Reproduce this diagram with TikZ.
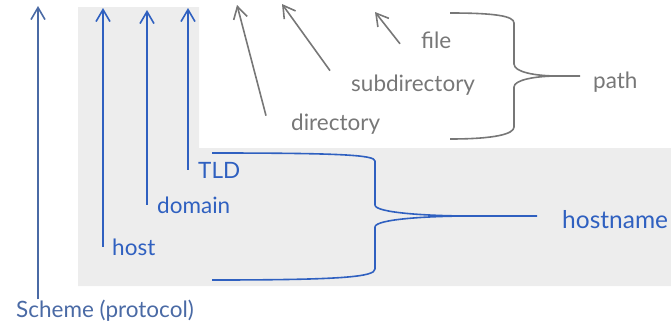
\documentclass[tikz,border=0pt]{standalone}
\usepackage{fontspec}
\setmainfont{Lato}
\usepackage{xcolor}
\usetikzlibrary{arrows.meta, positioning, calc}

\definecolor{urlblue}{HTML}{2F60C0}
\definecolor{schemeblue}{HTML}{4A6AA5}
\definecolor{pathgrey}{HTML}{777777}
\definecolor{boxgrey}{HTML}{EDEDED}

\tikzset{
    part/.style={inner sep=0pt, anchor=base west, font=\fontsize{22.5}{26}\selectfont},
    bluepart/.style={part, text=urlblue},
    greypart/.style={part, text=pathgrey},
    pointer/.style={line width=1.6pt, -{Straight Barb[length=12pt, width=14pt, line width=1.6pt]}},
    brace/.style={line width=1.6pt, line join=round}
}

\begin{document}
\begin{tikzpicture}[x=1pt, y=1pt]
            \useasboundingbox (0,0) rectangle (671,325);

            \fill[boxgrey] (78,318) -- (199,318) -- (199,177) -- (671,177) -- (671,39) -- (78,39) -- cycle;% Background

            % arrow tips
            \coordinate (schemeTop) at (38,319);
            \coordinate (hostTop) at (103,317);
            \coordinate (domainTop) at (147,315);
            \coordinate (tldTop) at (188,317);
            \coordinate (dirTop) at (237,320);
            \coordinate (subdirTop) at (282,321);
            \coordinate (fileTop) at (375,313);

            % brace ends
            \coordinate (hnUpper) at (212,172);
            \coordinate (hnLower) at (212,45);
            \coordinate (hnTip) at (470,109);
            \coordinate (pathUpper) at (450,312);
            \coordinate (pathLower) at (450,186);
            \coordinate (pathTip) at (558,249);

            \node[part, text=schemeblue] (scheme) at (16,8) {Scheme (protocol)};
            \node[bluepart] (host) at (112,70) {host};
            \node[bluepart] (domain) at (157,112) {domain};
            \node[bluepart] (tld) at (198,147) {TLD};
            \node[bluepart, font=\fontsize{24.5}{29}\selectfont] (hostname) at (562,97) {hostname};

            \node[greypart] (directory) at (291,195) {directory};
            \node[greypart] (subdirectory) at (351,234) {subdirectory};
            \node[greypart] (file) at (421,277) {file};
            \node[greypart] (path) at (593,237) {path};

            \draw[pointer, schemeblue] (schemeTop |- scheme.north) -- (schemeTop);
            \draw[pointer, urlblue] (hostTop |- host.center) -- (hostTop);
            \draw[pointer, urlblue] (domainTop |- domain.center) -- (domainTop);
            \draw[pointer, urlblue] (tldTop |- tld.center) -- (tldTop);

            \draw[pointer, pathgrey] ([shift={(-25,8)}]directory.west) -- (dirTop);
            \draw[pointer, pathgrey] ([shift={(-21,14)}]subdirectory.west) -- (subdirTop);
            \draw[pointer, pathgrey] ([shift={(-21,-4)}]file.west) -- (fileTop);

            % hostname brace
            \draw[brace, urlblue] (hnUpper) .. controls (340,172) and (375,170) .. (375,164) -- (375,120)
                .. controls (375,112) and (430,109) .. (hnTip) -- (hnTip -| hostname.west) [shorten >=25pt];
            \draw[brace, urlblue] (hnTip) .. controls (430,109) and (375,106) .. (375,98) -- (375,56)
                .. controls (375,48) and (340,45) .. (hnLower);

            % path brace
            \draw[brace, pathgrey] (pathUpper) .. controls (495,312) and (514,309) .. (514,302) -- (514,261)
                .. controls (514,253) and (535,249) .. (pathTip) -- (pathTip -| path.west) [shorten >=13pt];
            \draw[brace, pathgrey] (pathTip) .. controls (535,249) and (514,245) .. (514,238) -- (514,198)
                .. controls (514,191) and (495,186) .. (pathLower);
\end{tikzpicture}
\end{document}
